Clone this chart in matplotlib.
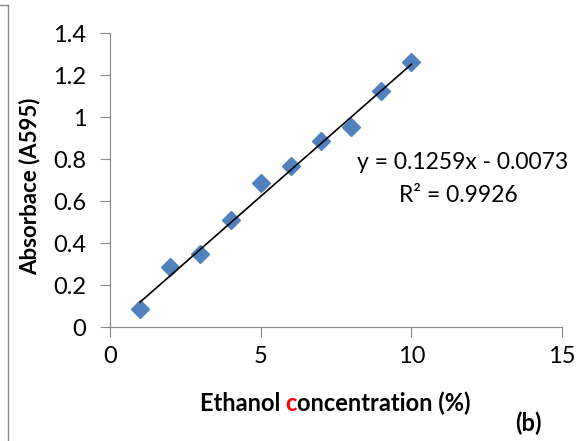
import matplotlib
matplotlib.use("Agg")
import matplotlib.pyplot as plt
from matplotlib.offsetbox import TextArea, HPacker, AnchoredOffsetbox
from matplotlib.lines import Line2D
import numpy as np

plt.rcParams["font.family"] = ["Lato", "DejaVu Sans"]

conc = [1, 2, 3, 4, 5, 6, 7, 8, 9, 10]
absorb = [0.086, 0.286, 0.348, 0.51, 0.686, 0.767, 0.886, 0.952, 1.124, 1.262]
slope = 0.1259
icept = -0.0073

fig = plt.figure(figsize=(5.85, 4.41), dpi=100)
ax = fig.add_axes([0.188, 0.2585, 0.773, 0.6665])

ax.plot(conc, absorb, "D", color="#4F81BD", markersize=9, zorder=3)
fx = np.array([conc[0], conc[-1]])
ax.plot(fx, slope * fx + icept, color="black", linewidth=1.2, zorder=4)

ax.set_xlim(0, 15)
ax.set_ylim(0, 1.4)
ax.set_xticks([0, 5, 10, 15])
ax.set_yticks([0, 0.2, 0.4, 0.6, 0.8, 1.0, 1.2, 1.4])
ax.set_yticklabels(["0", "0.2", "0.4", "0.6", "0.8", "1", "1.2", "1.4"])
for s in ["top", "right"]:
    ax.spines[s].set_visible(False)
for s in ["left", "bottom"]:
    ax.spines[s].set_color("#888888")
ax.tick_params(direction="out", length=7, color="#888888", labelsize=17)
ax.tick_params(axis="y", pad=10)
ax.tick_params(axis="x", pad=7)

ax.text(0.779, 0.558, "y = 0.1259x - 0.0073", transform=ax.transAxes,
        ha="center", va="center", fontsize=16.5)
ax.text(0.77, 0.446, "R² = 0.9926", transform=ax.transAxes,
        ha="center", va="center", fontsize=16.5)

ax.set_ylabel("Absorbace (A595)", fontsize=16, fontweight="bold")
ax.yaxis.set_label_coords(-0.154, 0.48)

parts = [TextArea("Ethanol ", textprops=dict(fontsize=17, fontweight="bold")),
         TextArea("c", textprops=dict(fontsize=17, fontweight="bold", color="red")),
         TextArea("oncentration (%)", textprops=dict(fontsize=17, fontweight="bold"))]
box = HPacker(children=parts, align="baseline", pad=0, sep=0)
anch = AnchoredOffsetbox(loc="center", child=box, frameon=False,
                         bbox_to_anchor=(335 / 585, 1 - 403 / 441),
                         bbox_transform=fig.transFigure, borderpad=0, pad=0)
fig.add_artist(anch)

fig.text(528 / 585, 1 - 423 / 441, "(b)", fontsize=17, fontweight="bold",
         ha="center", va="center")

# frame of the surrounding figure box
fig.add_artist(Line2D([8 / 585, 8 / 585], [0, 1 - 5 / 441], color="#888888", linewidth=1,
                      transform=fig.transFigure))
fig.add_artist(Line2D([0, 8 / 585], [1 - 5 / 441, 1 - 5 / 441], color="#888888", linewidth=1,
                      transform=fig.transFigure))

fig.savefig("out.png", dpi=100)
